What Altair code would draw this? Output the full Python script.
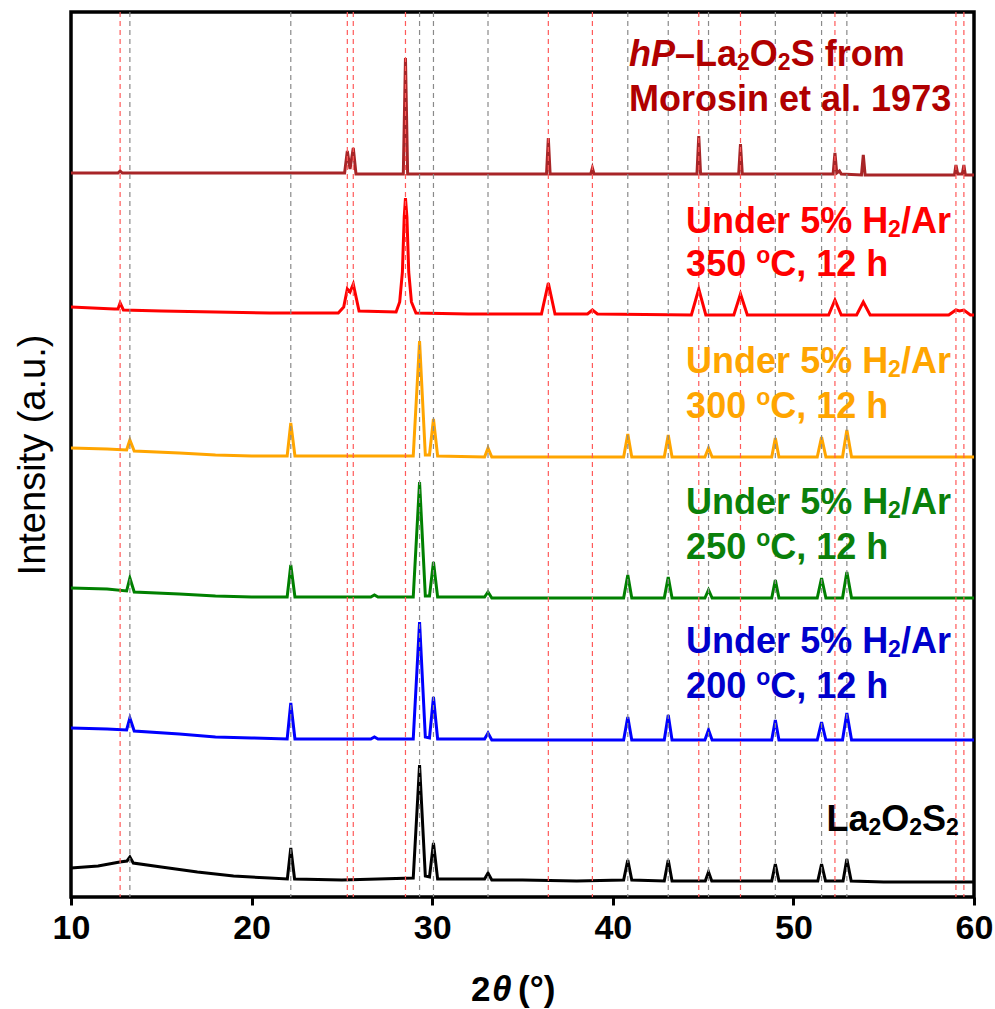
import altair as alt
import pandas as pd

# ---------------- reference peak positions (2theta, deg) ----------------
hp_ref_peaks = [12.72, 25.30, 25.63, 28.52, 36.43, 38.87, 44.76, 47.07, 52.30, 59.00, 59.44]
la2o2s2_ref_peaks = [13.26, 22.17, 29.30, 30.07, 33.09, 40.83, 43.07, 45.30, 49.00, 51.56, 52.96]

# ---------------- traces (stacked, a.u.) ----------------
tt_black = [10, 11.5, 12.7, 13.1, 13.26, 13.45, 15, 17, 19, 21, 21.98, 22.17, 22.38, 25, 27, 28.95,
            29.3, 29.62, 29.85, 30.07, 30.3, 32.9, 33.09, 33.3, 35, 38, 40.6, 40.83, 41.05, 42.85,
            43.07, 43.28, 45.12, 45.3, 45.48, 48.8, 49.0, 49.2, 51.35, 51.56, 51.78, 52.75, 52.96,
            53.2, 55, 60]
int_black = [29, 31, 35, 36, 40, 34, 30, 25, 21, 19, 18, 49, 18, 17, 18, 19,
             132, 21, 20, 54, 18, 18, 24, 17, 17, 16, 17, 37, 17, 16,
             37, 16, 16, 25, 16, 16, 33, 16, 16, 33, 16, 16, 38,
             16, 15, 15]

tt_mid = [10, 12, 13.08, 13.26, 13.5, 16, 18, 20, 21.97, 22.17, 22.4, 25, 26.6, 26.8, 27.0, 28.95,
          29.3, 29.62, 29.85, 30.07, 30.3, 32.9, 33.09, 33.3, 36, 40.6, 40.83, 41.05, 42.85, 43.07,
          43.28, 45.1, 45.3, 45.5, 48.8, 49.0, 49.2, 51.32, 51.56, 51.8, 52.72, 52.96, 53.22, 56, 60]
int_blue = [169, 168, 167, 179, 166, 163, 160, 159, 158, 194, 158, 158, 158, 160, 158, 158,
            275, 160, 159, 200, 158, 158, 164, 157, 157, 157, 180, 157, 157, 182,
            157, 157, 167, 157, 157, 177, 157, 157, 175, 157, 157, 184, 157, 157, 157]
int_green = [309, 308, 306, 319, 305, 303, 301, 300, 300, 332, 300, 300, 300, 302, 300, 300,
             415, 301, 301, 335, 300, 300, 305, 299, 299, 299, 322, 299, 299, 320,
             299, 299, 307, 299, 299, 317, 299, 299, 319, 299, 299, 325, 299, 299, 299]
int_orange = [449, 448, 447, 457, 446, 444, 442, 441, 441, 474, 441, 441, 441, 441, 441, 441,
              556, 442, 442, 478, 441, 440, 449, 440, 440, 440, 463, 440, 440, 462,
              440, 440, 449, 440, 440, 459, 440, 440, 460, 440, 440, 467, 440, 440, 440]

tt_red = [10, 12.4, 12.6, 12.72, 12.9, 15, 18, 21, 24.8, 25.1, 25.3, 25.45, 25.63, 25.95,
          28.0, 28.2, 28.35, 28.45, 28.52, 28.6, 28.7, 28.85, 29.1, 32,
          36.05, 36.43, 36.8, 38.6, 38.87, 39.15, 44.35, 44.76, 45.15, 46.7, 47.07, 47.45,
          51.95, 52.3, 52.65, 53.5, 53.87, 54.25, 58.6, 59.0, 59.2, 59.44, 59.8, 60]
int_red = [590, 588, 588, 594, 587, 586, 585, 584, 584, 590, 608, 605, 613, 586,
           585, 595, 625, 680, 699, 680, 625, 595, 584, 583,
           583, 614, 583, 583, 587, 583, 582, 608, 582, 582, 603, 582,
           582, 597, 582, 582, 595, 582, 582, 587, 586, 587, 582, 582]

tt_hp = [10, 12.6, 12.72, 12.84, 20, 25.15, 25.3, 25.45, 25.63, 25.78, 28.4, 28.52, 28.64, 32,
         36.33, 36.43, 36.53, 38.78, 38.87, 38.96, 44.66, 44.76, 44.86, 46.97, 47.07, 47.17,
         52.2, 52.3, 52.4, 52.55, 52.65, 53.77, 53.87, 53.97, 58.92, 59.0, 59.1, 59.35, 59.44,
         59.52, 60]
int_hp = [724, 724, 726, 724, 724, 724, 746, 728, 749, 723, 723, 839, 723, 723,
          723, 759, 723, 723, 729, 723, 723, 761, 723, 723, 753, 723,
          723, 744, 724, 726, 723, 722, 742, 722, 722, 732, 723, 723, 732,
          722, 722]

series_names = ["hP-La2O2S (Morosin 1973)", "350 C", "300 C", "250 C", "200 C", "La2O2S2"]
series_colors = ["#A82527", "#FF0000", "#FFA500", "#008000", "#0000FF", "#000000"]

frames = []
for name, col, xs, ys in [
    (series_names[0], series_colors[0], tt_hp, int_hp),
    (series_names[1], series_colors[1], tt_red, int_red),
    (series_names[2], series_colors[2], tt_mid, int_orange),
    (series_names[3], series_colors[3], tt_mid, int_green),
    (series_names[4], series_colors[4], tt_mid, int_blue),
    (series_names[5], series_colors[5], tt_black, int_black),
]:
    frames.append(pd.DataFrame({"tt": xs, "I": ys, "sample": name, "col": col}))
traces = pd.concat(frames, ignore_index=True)

ref_lines = pd.DataFrame(
    {"tt": hp_ref_peaks + la2o2s2_ref_peaks,
     "col": ["#FF5A5A"] * len(hp_ref_peaks) + ["#8A8A8A"] * len(la2o2s2_ref_peaks)}
)

# ---------------- label texts (segments: text, kind) ----------------
# kind: n = normal, i = italic, sub = subscript, sup = superscript
label_lines = [
    ([("hP", "i"), ("\u2013La", "n"), ("2", "sub"), ("O", "n"), ("2", "sub"), ("S from", "n")], 40.9, 842, "#B00000"),
    ([("Morosin et al. 1973", "n")], 40.9, 797, "#B00000"),
    ([("Under 5% H", "n"), ("2", "sub"), ("/Ar", "n")], 44.06, 675, "#FF0000"),
    ([("350 ", "n"), ("o", "sup"), ("C, 12 h", "n")], 44.06, 632, "#FF0000"),
    ([("Under 5% H", "n"), ("2", "sub"), ("/Ar", "n")], 44.06, 535, "#FFA500"),
    ([("300 ", "n"), ("o", "sup"), ("C, 12 h", "n")], 44.06, 490, "#FFA500"),
    ([("Under 5% H", "n"), ("2", "sub"), ("/Ar", "n")], 44.06, 394, "#0A800A"),
    ([("250 ", "n"), ("o", "sup"), ("C, 12 h", "n")], 44.06, 349, "#0A800A"),
    ([("Under 5% H", "n"), ("2", "sub"), ("/Ar", "n")], 44.06, 255, "#0000CC"),
    ([("200 ", "n"), ("o", "sup"), ("C, 12 h", "n")], 44.06, 210, "#0000CC"),
    ([("La", "n"), ("2", "sub"), ("O", "n"), ("2", "sub"), ("S", "n"), ("2", "sub")], 51.83, 77, "#000000"),
]

FONT = "Liberation Sans"
FS = 36
FS_SMALL = 23
W, H = 903, 885

# Arial/Liberation Sans Bold advance widths (per em)
ADV = {" ": .278, "%": .889, "/": .278, ".": .278, ",": .278, "\u2013": .556,
       "A": .722, "C": .722, "H": .722, "L": .611, "M": .833, "O": .778, "P": .667, "S": .667, "U": .722,
       "a": .556, "d": .611, "e": .556, "f": .333, "h": .611, "i": .278, "l": .278, "m": .889,
       "n": .611, "o": .611, "r": .389, "s": .556, "t": .333}


def text_width(s, size):
    return sum(ADV.get(ch, .556) for ch in s) * size


xscale = alt.Scale(domain=[10, 60], nice=False, zero=False)
yscale = alt.Scale(domain=[0, 885], nice=False, zero=False)

label_layers = []
for segs, lx, ly, lc in label_lines:
    df = pd.DataFrame({"tt": [lx], "I": [ly]})
    off = 0.0
    for s, kind in segs:
        size = FS if kind in ("n", "i") else FS_SMALL
        dy = 0
        if kind == "sub":
            dy = 8
        elif kind == "sup":
            dy = -9
        label_layers.append(
            alt.Chart(df).mark_text(
                font=FONT, fontSize=size, fontWeight="bold",
                fontStyle="italic" if kind == "i" else "normal",
                align="left", baseline="middle", color=lc, dx=round(off, 1), dy=dy,
            ).encode(x=alt.X("tt:Q", scale=xscale), y=alt.Y("I:Q", scale=yscale), text=alt.value(s))
        )
        off += text_width(s, size)

xaxis = alt.Axis(values=[10, 20, 30, 40, 50, 60], format="d", title=None, grid=False,
                 domain=False, ticks=True, tickSize=8, tickWidth=3, tickColor="black",
                 labelFont=FONT, labelFontSize=34, labelFontWeight="bold", labelColor="black",
                 labelPadding=6, labelFlush=False)
yaxis = alt.Axis(labels=False, ticks=False, domain=False, grid=False,
                 title="Intensity (a.u.)", titleFont=FONT, titleFontSize=38,
                 titleFontWeight="normal", titleColor="black", titleAngle=-90,
                 titleX=-38, titleY=H / 2, titleAlign="center", titleBaseline="middle")

lines = alt.Chart(traces).mark_line(strokeWidth=3, interpolate="linear").encode(
    x=alt.X("tt:Q", scale=xscale, axis=xaxis),
    y=alt.Y("I:Q", scale=yscale, axis=yaxis),
    color=alt.Color("col:N", scale=None),
    detail="sample:N",
)

rules = alt.Chart(ref_lines).mark_rule(strokeWidth=1.2, strokeDash=[5, 4]).encode(
    x=alt.X("tt:Q", scale=xscale),
    color=alt.Color("col:N", scale=None),
)

# x-axis title "2θ (°)" with italic theta
one = pd.DataFrame({"k": [0]})
t2 = alt.Chart(one).mark_text(font=FONT, fontSize=35, fontWeight="bold", align="left",
                              baseline="middle", color="black").encode(
    x=alt.value(400), y=alt.value(978), text=alt.value("2"))
tth = alt.Chart(one).mark_text(font=FONT, fontSize=35, fontWeight="bold", fontStyle="italic",
                               align="left", baseline="middle", color="black").encode(
    x=alt.value(421), y=alt.value(978), text=alt.value("\u03b8"))
tpar = alt.Chart(one).mark_text(font=FONT, fontSize=35, fontWeight="bold", align="left",
                                baseline="middle", color="black").encode(
    x=alt.value(447), y=alt.value(978), text=alt.value("(\u00b0)"))

chart = alt.layer(lines, rules, *label_layers, t2, tth, tpar).properties(
    width=W, height=H,
    autosize=alt.AutoSizeParams(type="none"),
    padding={"left": 71, "top": 12, "right": 21, "bottom": 112},
    background="white",
).configure_view(stroke="black", strokeWidth=3.5)

chart.save("out.html", embed_options={"renderer": "svg", "actions": False})
